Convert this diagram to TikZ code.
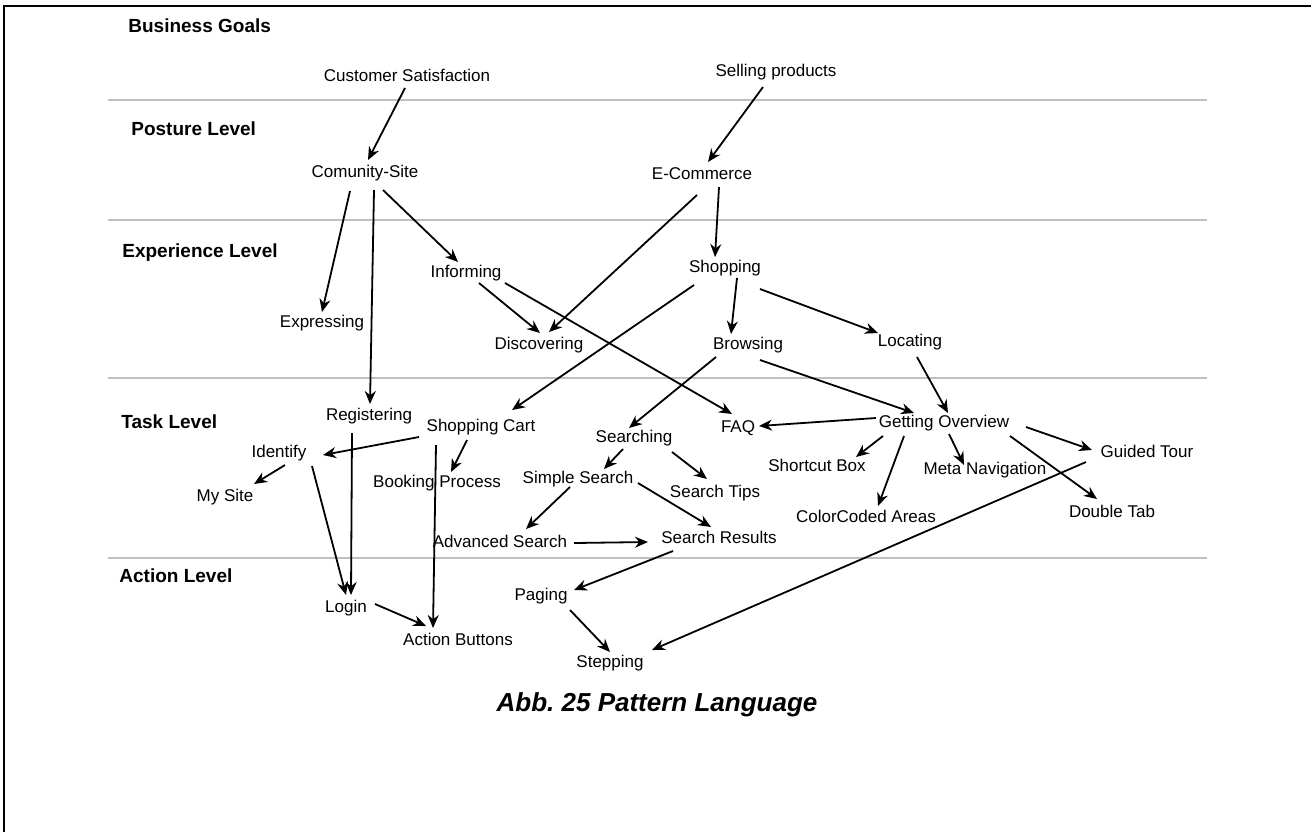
\documentclass[tikz,border=0pt]{standalone}
\usepackage{fontspec}
\setmainfont{Liberation Sans}
\usetikzlibrary{arrows.meta}
\frenchspacing
\begin{document}
\begin{tikzpicture}[x=0.5pt,y=-0.5pt,
  nd/.style={font=\fontsize{8.5pt}{10pt}\selectfont, inner sep=0pt, text height=6.2pt, text depth=1.8pt},
  lvl/.style={font=\fontsize{9.5pt}{11pt}\selectfont\bfseries, inner sep=0pt, anchor=west, text height=6.8pt, text depth=1.8pt},
  sep/.style={draw=black!25, line width=1pt},
  arr/.style={draw=black, line width=0.9pt, -{Stealth[length=6.5pt,width=5.5pt]}},
  frm/.style={draw=black, line width=0.6pt}]
\useasboundingbox[fill=white] (0,0) rectangle (1311,832);
% frame
\draw[frm] (4,832) -- (4,6) -- (1311,6);
% level separators
\draw[sep] (108,100) -- (1207,100);
\draw[sep] (108,220) -- (1207,220);
\draw[sep] (108,378) -- (1207,378);
\draw[sep] (108,558) -- (1207,558);
% level labels
\node[lvl] (l1) at (128,27) {Business Goals};
\node[lvl] (l2) at (131,130) {Posture Level};
\node[lvl] (l3) at (122,252) {Experience Level};
\node[lvl] (l4) at (121,423) {Task Level};
\node[lvl] (l5) at (119,577) {Action Level};
% nodes
\node[nd] (cust) at (407,77) {Customer Satisfaction};
\node[nd] (sell) at (776,72) {Selling products};
\node[nd] (comm) at (365,173) {Comunity-Site};
\node[nd] (ecom) at (702,175) {E-Commerce};
\node[nd] (inf) at (466,273) {Informing};
\node[nd] (shop) at (725,268) {Shopping};
\node[nd] (expr) at (322,323) {Expressing};
\node[nd] (disc) at (539,345) {Discovering};
\node[nd] (brow) at (748,345) {Browsing};
\node[nd] (loc) at (910,342) {Locating};
\node[nd] (reg) at (369,416) {Registering};
\node[nd] (cart) at (481,427) {Shopping Cart};
\node[nd] (faq) at (738,428) {FAQ};
\node[nd] (gov) at (944,423) {Getting Overview};
\node[nd] (ident) at (279,453) {Identify};
\node[nd] (srch) at (634,438) {Searching};
\node[nd] (gtour) at (1147,453) {Guided Tour};
\node[nd] (scb) at (817,467) {Shortcut Box};
\node[nd] (meta) at (985,470) {Meta Navigation};
\node[nd] (mysite) at (225,497) {My Site};
\node[nd] (book) at (437,483) {Booking Process};
\node[nd] (ssrch) at (578,479) {Simple Search};
\node[nd] (stips) at (715,493) {Search Tips};
\node[nd] (cca) at (866,518) {ColorCoded Areas};
\node[nd] (dtab) at (1112,513) {Double Tab};
\node[nd] (adv) at (500,543) {Advanced Search};
\node[nd] (sres) at (719,539) {Search Results};
\node[nd] (paging) at (541,596) {Paging};
\node[nd] (login) at (346,608) {Login};
\node[nd] (abtn) at (458,641) {Action Buttons};
\node[nd] (stepp) at (610,663) {Stepping};
% caption
\node[inner sep=0pt, font=\fontsize{13pt}{15pt}\selectfont\bfseries\itshape] (cap) at (657,705) {Abb. 25 Pattern Language};
% connectors
\draw[arr] ([shift={(-2,11)}]cust.center) -- ([shift={(3,-13)}]comm.center);
\draw[arr] ([shift={(-13,15)}]sell.center) -- ([shift={(6,-13)}]ecom.center);
\draw[arr] ([shift={(-15,18)}]comm.center) -- ([shift={(0,-11)}]expr.center);
\draw[arr] ([shift={(9,17)}]comm.center) -- ([shift={(1,-12)}]reg.center);
\draw[arr] ([shift={(18,17)}]comm.center) -- ([shift={(-8,-11)}]inf.center);
\draw[arr] ([shift={(-5,20)}]ecom.center) -- ([shift={(10,-13)}]disc.center);
\draw[arr] ([shift={(17,12)}]ecom.center) -- ([shift={(-10,-11)}]shop.center);
\draw[arr] ([shift={(13,10)}]inf.center) -- ([shift={(1,-12)}]disc.center);
\draw[arr] ([shift={(39,10)}]inf.center) -- ([shift={(-6,-14)}]faq.center);
\draw[arr] ([shift={(-31,17)}]shop.center) -- ([shift={(31,-17)}]cart.center);
\draw[arr] ([shift={(12,10)}]shop.center) -- ([shift={(-17,-11)}]brow.center);
\draw[arr] ([shift={(35,21)}]shop.center) -- ([shift={(-32,-9)}]loc.center);
\draw[arr] ([shift={(-32,12)}]brow.center) -- ([shift={(-5,-10)}]srch.center);
\draw[arr] ([shift={(12,15)}]brow.center) -- ([shift={(-30,-10)}]gov.center);
\draw[arr] ([shift={(7,15)}]loc.center) -- ([shift={(4,-10)}]gov.center);
\draw[arr] ([shift={(-68,-5)}]gov.center) -- ([shift={(21,-2)}]faq.center);
\draw[arr] ([shift={(-61,13)}]gov.center) -- ([shift={(39,-10)}]scb.center);
\draw[arr] ([shift={(-40,13)}]gov.center) -- ([shift={(12,-12)}]cca.center);
\draw[arr] ([shift={(5,11)}]gov.center) -- ([shift={(-21,-5)}]meta.center);
\draw[arr] ([shift={(66,13)}]gov.center) -- ([shift={(-15,-14)}]dtab.center);
\draw[arr] ([shift={(82,4)}]gov.center) -- ([shift={(-55,-3)}]gtour.center);
\draw[arr] ([shift={(-61,9)}]gtour.center) -- ([shift={(42,-13)}]stepp.center);
\draw[arr] ([shift={(-62,10)}]cart.center) -- ([shift={(44,2)}]ident.center);
\draw[arr] ([shift={(-14,13)}]cart.center) -- ([shift={(14,-11)}]book.center);
\draw[arr] ([shift={(-45,18)}]cart.center) -- ([shift={(-25,-13)}]abtn.center);
\draw[arr] ([shift={(6,12)}]ident.center) -- ([shift={(29,-13)}]mysite.center);
\draw[arr] ([shift={(33,13)}]ident.center) -- ([shift={(0,-13)}]login.center);
\draw[arr] ([shift={(-17,17)}]reg.center) -- ([shift={(5,-13)}]login.center);
\draw[arr] ([shift={(29,-4)}]login.center) -- ([shift={(-32,-15)}]abtn.center);
\draw[arr] ([shift={(-11,11)}]srch.center) -- ([shift={(26,-10)}]ssrch.center);
\draw[arr] ([shift={(38,14)}]srch.center) -- ([shift={(-8,-14)}]stips.center);
\draw[arr] ([shift={(-8,8)}]ssrch.center) -- ([shift={(26,-14)}]adv.center);
\draw[arr] ([shift={(60,4)}]ssrch.center) -- ([shift={(-8,-12)}]sres.center);
\draw[arr] ([shift={(74,0)}]adv.center) -- ([shift={(-71,3)}]sres.center);
\draw[arr] ([shift={(-46,12)}]sres.center) -- ([shift={(33,-6)}]paging.center);
\draw[arr] ([shift={(29,14)}]paging.center) -- ([shift={(0,-11)}]stepp.center);
\end{tikzpicture}
\end{document}
